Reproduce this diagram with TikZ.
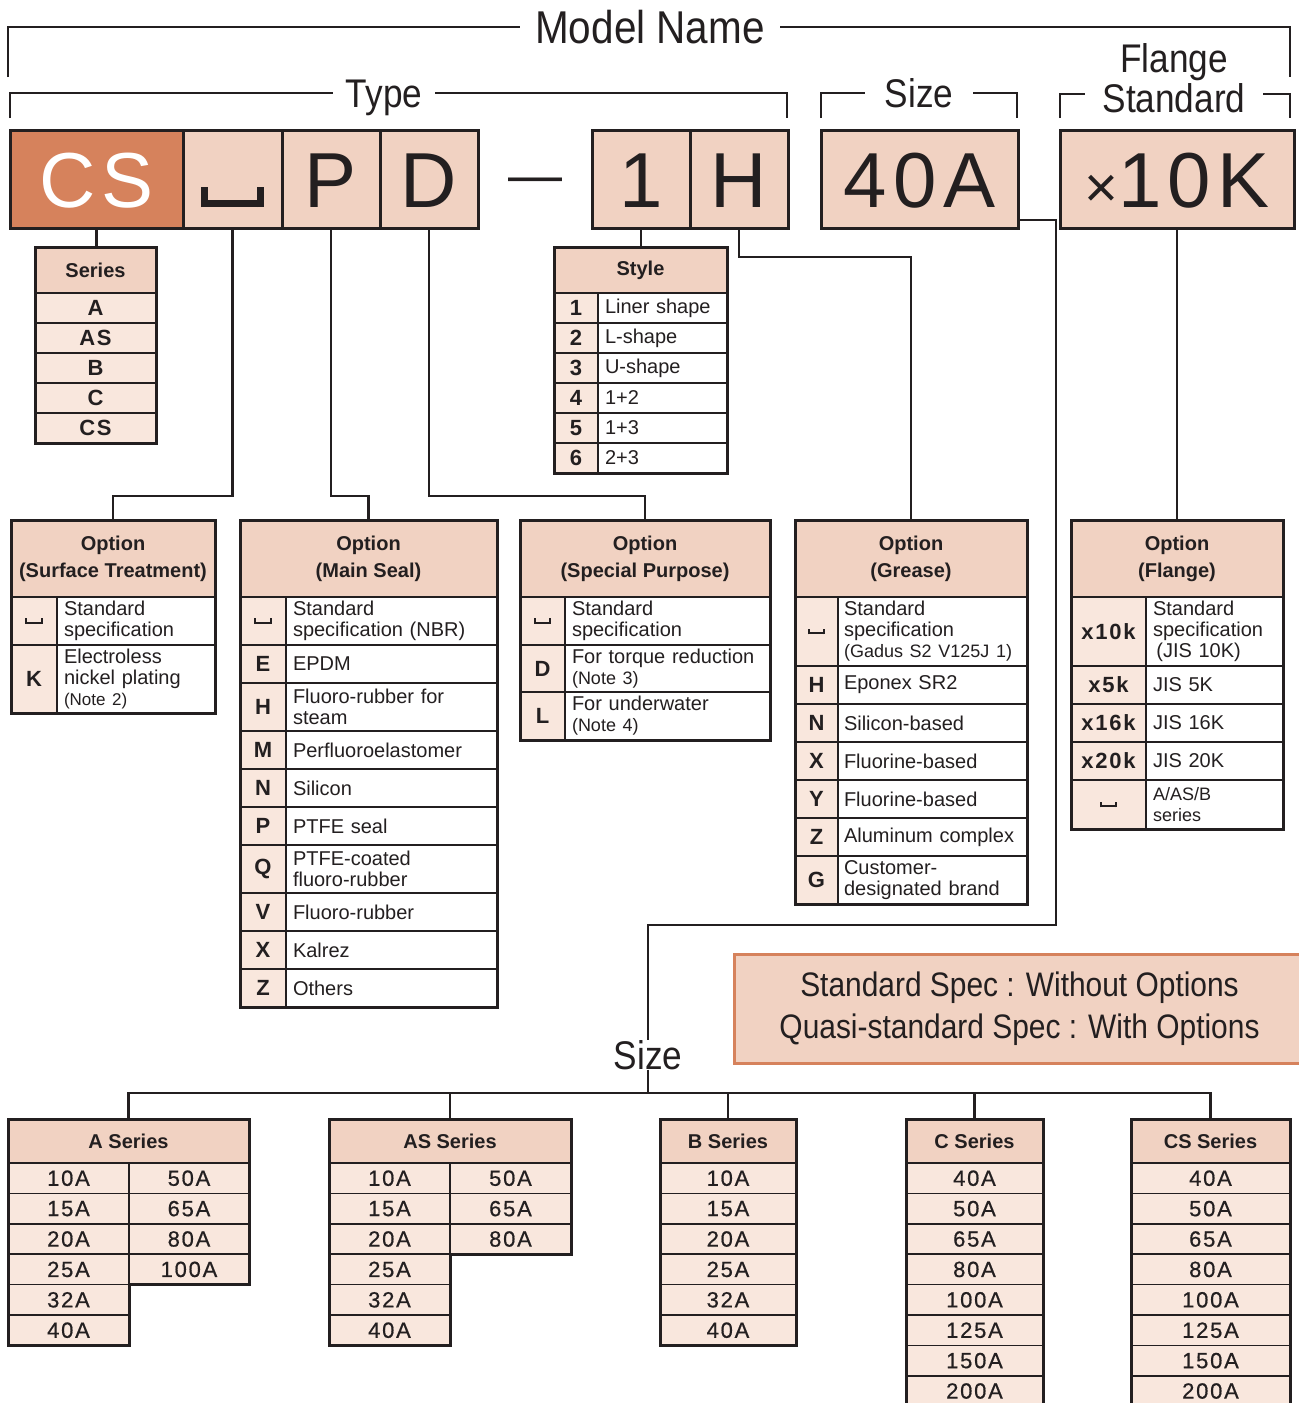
\documentclass[tikz,border=0pt]{standalone}
\usepackage{fontspec}
\setmainfont{Liberation Sans}
\newfontfamily\condf[FakeStretch=0.88]{Liberation Sans}
\newfontfamily\spf[LetterSpace=8]{Liberation Sans}
\newfontfamily\spm[LetterSpace=8, FakeBold=0.6]{Liberation Sans}
\definecolor{ink}{HTML}{231F20}
\definecolor{hdc}{HTML}{F1D2C2}
\definecolor{cellc}{HTML}{F9E7DD}
\definecolor{dark}{HTML}{D6825C}
\newcommand{\opsp}{\rule{0.09em}{0.26em}\rule{0.62em}{0.09em}\rule{0.09em}{0.26em}}
\tikzset{
  box/.style={draw, line width=1.5pt, fill=hdc, minimum width=49pt, minimum height=49pt,
    inner sep=0pt, outer sep=0pt, anchor=north west,
    font=\spf\fontsize{39}{39}\selectfont, text height=28pt, text depth=0pt},
  lbl/.style={font=\condf\fontsize{20}{20}\selectfont, text height=14.3pt, text depth=0pt,
    inner sep=0pt},
  hd/.style={draw, line width=1.5pt, fill=hdc, inner sep=0pt, outer sep=0pt,
    anchor=north west, align=center, font=\bfseries\fontsize{10}{13.5}\selectfont},
  key/.style={draw, line width=0.8pt, fill=cellc, inner sep=0pt, outer sep=0pt,
    anchor=north west, font=\bfseries\fontsize{11}{12}\selectfont},
  spk/.style={key, font=\spf\bfseries\fontsize{11}{12}\selectfont},
  serc/.style={spk, minimum height=15pt},
  szc/.style={key, font=\spm\fontsize{11}{12}\selectfont, minimum height=15.2pt},
  desc/.style={draw, line width=0.8pt, fill=white, inner xsep=3.5pt, inner ysep=0pt,
    outer sep=0pt, anchor=north west, align=left, font=\fontsize{10}{10.5}\selectfont},
  tbl/.style={draw, line width=1.5pt},
  wire/.style={draw, line width=1.4pt},
  note/.style={draw=dark, line width=1.5pt, fill=hdc, anchor=north west, align=center,
    inner sep=0pt, font=\condf\fontsize{17}{21}\selectfont}
}
\begin{document}
\begin{tikzpicture}[x=0.5pt, y=-0.5pt, color=ink]
  \useasboundingbox (0,0) rectangle (1298,1403);

  % brackets over the code
  \node[lbl, font=\condf\fontsize{23}{23}\selectfont, text height=16.5pt, minimum width=130pt] (mn) at (650,27) {Model Name};
  \node[lbl, minimum width=51pt] (ty) at (384,93) {Type};
  \node[lbl, minimum width=54pt] (sz) at (919,93) {Size};
  \node[lbl, text height=, text depth=, align=center, anchor=south, minimum width=89pt,
    font=\condf\fontsize{20}{17.5}\selectfont] (fs) at (1174,113) {Flange\\Standard};
  \coordinate (mnl) at (8,77);
  \coordinate (mnr) at (1290,77);
  \coordinate (tyl) at (10,118);
  \coordinate (tyr) at (787,118);
  \coordinate (szl0) at (821,118);
  \coordinate (szr0) at (1017,118);
  \coordinate (fsl) at (1060,118);
  \coordinate (fsr) at (1290,118);
  \draw[wire] (mnl) |- (mn.west);
  \draw[wire] (mn.east) -| (mnr);
  \draw[wire] (tyl) |- (ty.west);
  \draw[wire] (ty.east) -| (tyr);
  \draw[wire] (szl0) |- (sz.west);
  \draw[wire] (sz.east) -| (szr0);
  \draw[wire] (fsl) |- ([yshift=9.5pt]fs.south west);
  \draw[wire] ([yshift=9.5pt]fs.south east) -| (fsr);

  % code boxes
  \node[box, fill=dark, text=white, minimum width=86.5pt] (bcs) at (10,130) {CS};
  \node[box, minimum width=49.5pt] (bsp) at (bcs.north east) {\opsp};
  \node[box] (bp) at (bsp.north east) {P};
  \node[box] (bd) at (bp.north east) {D};
  \node[anchor=base, inner sep=0pt, font=\fontsize{27}{27}\selectfont] (dash) at (535,193) {—};
  \node[box] (b1) at (592,130) {1};
  \node[box] (bh) at (b1.north east) {H};
  \node[box, minimum width=98.5pt] (b40) at (821,130) {40A};
  \node[box, minimum width=117pt] (bfl) at (1060,130) {{\fontsize{29}{29}\selectfont×}10K};

  % series
  \node[hd, minimum width=60.5pt, minimum height=23pt] (ser0) at (35,247) {Series};
  \foreach \s [count=\i] in {A,AS,B,C,CS}
    \node[serc, minimum width=60.5pt] (ser\i) at (35,{293+30*(\i-1)}) {\s};
  \draw[tbl] (ser0.north west) rectangle (ser5.south east);

  % style
  \node[hd, minimum width=86.5pt, minimum height=23pt] (sty0) at (554,247) {Style};
  \foreach \ky/\txt [count=\i] in {1/Liner shape,2/L-shape,3/U-shape,4/1+2,5/1+3,6/2+3} {
    \node[key, minimum width=22pt, minimum height=15pt] (sty\i) at (554,{293+30*(\i-1)}) {\ky};
    \node[desc, text width=57.5pt, minimum height=15pt] (styd\i) at (sty\i.north east) {\txt};
  }
  \draw[tbl] (sty0.north west) rectangle (styd6.south east);

  % option: surface treatment
  \node[hd, minimum width=102pt, minimum height=38.5pt] (st0) at (11,520) {Option\\(Surface Treatment)};
  \foreach \ky/\rh/\txt [count=\i, remember=\i as \j (initially 0)] in
    {\opsp/24pt/{Standard\\specification},
     K/34pt/{Electroless\\nickel plating\\{\fontsize{8.5}{9}\selectfont(Note 2)}}} {
    \node[key, minimum width=23pt, minimum height=\rh] (st\i) at (st\j.south west) {\ky};
    \node[desc, text width=72pt, minimum height=\rh] (std\i) at (st\i.north east) {\txt};
  }
  \draw[tbl] (st0.north west) rectangle (std2.south east);

  % option: main seal
  \node[hd, minimum width=128.5pt, minimum height=38.5pt] (ms0) at (240,520) {Option\\(Main Seal)};
  \foreach \ky/\rh/\txt [count=\i, remember=\i as \j (initially 0)] in
    {\opsp/24pt/{Standard\\specification (NBR)}, E/19pt/EPDM,
     H/24pt/{Fluoro-rubber for\\steam}, M/19pt/Perfluoroelastomer,
     N/19pt/Silicon, P/19pt/PTFE seal, Q/24pt/{PTFE-coated\\fluoro-rubber},
     V/19pt/Fluoro-rubber, X/19pt/Kalrez, Z/19pt/Others} {
    \node[key, minimum width=23pt, minimum height=\rh] (ms\i) at (ms\j.south west) {\ky};
    \node[desc, text width=98.5pt, minimum height=\rh] (msd\i) at (ms\i.north east) {\txt};
  }
  \draw[tbl] (ms0.north west) rectangle (msd10.south east);

  % option: special purpose
  \node[hd, minimum width=125pt, minimum height=38.5pt] (sp0) at (520,520) {Option\\(Special Purpose)};
  \foreach \ky/\rh/\txt [count=\i, remember=\i as \j (initially 0)] in
    {\opsp/24pt/{Standard\\specification},
     D/23.5pt/{For torque reduction\\{\fontsize{9}{9}\selectfont(Note 3)}},
     L/24pt/{For underwater\\{\fontsize{9}{9}\selectfont(Note 4)}}} {
    \node[key, minimum width=22.5pt, minimum height=\rh] (sp\i) at (sp\j.south west) {\ky};
    \node[desc, text width=95.5pt, minimum height=\rh] (spd\i) at (sp\i.north east) {\txt};
  }
  \draw[tbl] (sp0.north west) rectangle (spd3.south east);

  % option: grease
  \node[hd, minimum width=116pt, minimum height=38.5pt] (gr0) at (795,520) {Option\\(Grease)};
  \foreach \ky/\rh/\txt [count=\i, remember=\i as \j (initially 0)] in
    {\opsp/34.5pt/{Standard\\specification\\{\fontsize{9}{10}\selectfont(Gadus S2 V125J\ 1)}},
     H/19pt/Eponex SR2, N/19pt/Silicon-based, X/19pt/Fluorine-based,
     Y/19pt/Fluorine-based, Z/19pt/Aluminum complex,
     G/24pt/{Customer-\\designated brand}} {
    \node[key, minimum width=21.5pt, minimum height=\rh] (gr\i) at (gr\j.south west) {\ky};
    \node[desc, inner xsep=3pt, text width=88.5pt, minimum height=\rh] (grd\i) at (gr\i.north east) {\txt};
  }
  \draw[tbl] (gr0.north west) rectangle (grd7.south east);

  % option: flange
  \node[hd, minimum width=106pt, minimum height=38.5pt] (fl0) at (1071,520) {Option\\(Flange)};
  \foreach \ky/\rh/\txt [count=\i, remember=\i as \j (initially 0)] in
    {x10k/34.5pt/{Standard\\specification\\\,(JIS 10K)}, x5k/19pt/JIS 5K,
     x16k/19pt/JIS 16K, x20k/19pt/JIS 20K,
     \opsp/24.5pt/{{\fontsize{9}{10}\selectfont A/AS/B\\series}}} {
    \node[spk, minimum width=37.5pt, minimum height=\rh] (fl\i) at (fl\j.south west) {\ky};
    \node[desc, text width=61.5pt, minimum height=\rh] (fld\i) at (fl\i.north east) {\txt};
  }
  \draw[tbl] (fl0.north west) rectangle (fld5.south east);

  % note
  \node[note, minimum width=285pt, minimum height=54.5pt] (nt) at (733,953)
    {Standard Spec : Without Options\\Quasi-standard Spec : With Options};

  % size tables
  \node[lbl] (szl) at (648,1055) {Size};
  \node[hd, minimum width=120.5pt, minimum height=22pt] (sa0) at (8,1119) {A Series};
  \foreach \v [count=\i] in {10A,15A,20A,25A,32A,40A}
    \node[szc, minimum width=60.5pt] (sal\i) at (8,{1163+30.4*(\i-1)}) {\v};
  \foreach \v [count=\i] in {50A,65A,80A,100A}
    \node[szc, minimum width=60pt] (sar\i) at (129,{1163+30.4*(\i-1)}) {\v};
  \draw[tbl] (sa0.north west) -- (sa0.north east) -- (sar4.south east) -- (sar4.south west)
    -- (sal6.south east) -- (sal6.south west) -- cycle;

  \node[hd, minimum width=121pt, minimum height=22pt] (sas0) at (329,1119) {AS Series};
  \foreach \v [count=\i] in {10A,15A,20A,25A,32A,40A}
    \node[szc, minimum width=60.5pt] (sasl\i) at (329,{1163+30.4*(\i-1)}) {\v};
  \foreach \v [count=\i] in {50A,65A,80A}
    \node[szc, minimum width=60.5pt] (sasr\i) at (450,{1163+30.4*(\i-1)}) {\v};
  \draw[tbl] (sas0.north west) -- (sas0.north east) -- (sasr3.south east) -- (sasr3.south west)
    -- (sasl6.south east) -- (sasl6.south west) -- cycle;

  \node[hd, minimum width=68pt, minimum height=22pt] (sb0) at (660,1119) {B Series};
  \foreach \v [count=\i] in {10A,15A,20A,25A,32A,40A}
    \node[szc, minimum width=68pt] (sb\i) at (660,{1163+30.4*(\i-1)}) {\v};
  \draw[tbl] (sb0.north west) rectangle (sb6.south east);

  \node[hd, minimum width=68.5pt, minimum height=22pt] (sc0) at (906,1119) {C Series};
  \foreach \v [count=\i] in {40A,50A,65A,80A,100A,125A,150A,200A}
    \node[szc, minimum width=68.5pt] (sc\i) at (906,{1163+30.4*(\i-1)}) {\v};
  \draw[tbl] (sc0.north west) rectangle (sc8.south east);

  \node[hd, minimum width=79.5pt, minimum height=22pt] (scs0) at (1131,1119) {CS Series};
  \foreach \v [count=\i] in {40A,50A,65A,80A,100A,125A,150A,200A}
    \node[szc, minimum width=79.5pt] (scs\i) at (1131,{1163+30.4*(\i-1)}) {\v};
  \draw[tbl] (scs0.north west) rectangle (scs8.south east);

  % connectors
  \coordinate (lvla) at (0,496);
  \coordinate (lvlb) at (0,257);
  \coordinate (bus) at (0,1093);
  \coordinate (szv) at (1056,925);
  \draw[wire] (bcs.south) -- (bcs.south |- ser0.north);
  \draw[wire] (bsp.south) -- (bsp.south |- lvla) -| (st0.north);
  \draw[wire] (bp.south) -- (bp.south |- lvla) -| (ms0.north);
  \draw[wire] (bd.south) -- (bd.south |- lvla) -| (sp0.north);
  \draw[wire] (b1.south) -- (b1.south |- sty0.north);
  \draw[wire] (bh.south) -- (bh.south |- lvlb) -| (gr0.north);
  \draw[wire] (bfl.south) -- (bfl.south |- fl0.north);
  \draw[wire] ([yshift=4pt]b40.south east) -| (szv) -| (szl.north);
  \draw[wire] (szl.south) -- (szl.south |- bus);
  \draw[wire] (sa0.north) -- (sa0.north |- bus) -- (scs0.north |- bus) -- (scs0.north);
  \foreach \n in {sas0,sb0,sc0}
    \draw[wire] (\n.north) -- (\n.north |- bus);
\end{tikzpicture}
\end{document}
